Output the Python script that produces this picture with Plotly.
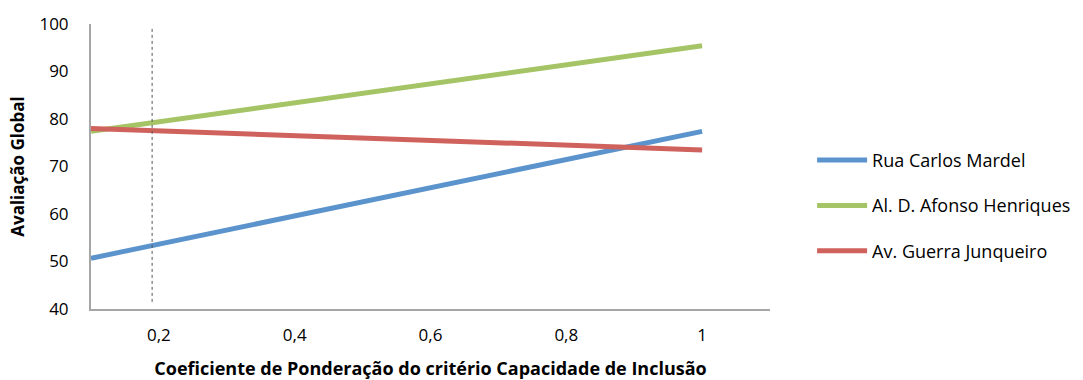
import plotly.graph_objects as go

# Weighting coefficient (x) and overall evaluation for each alternative
coef = [0.1, 1.0]
rua_carlos_mardel = [50.7, 77.4]
al_afonso_henriques = [77.4, 95.4]
av_guerra_junqueiro = [78.0, 73.5]

series_names = ["Rua Carlos Mardel", "Al. D. Afonso Henriques", "Av. Guerra Junqueiro"]
series_values = [rua_carlos_mardel, al_afonso_henriques, av_guerra_junqueiro]
series_colors = ["#5b93cc", "#a4c465", "#d0625d"]

x_ticks = [0.2, 0.4, 0.6, 0.8, 1]
x_tick_labels = ["0,2", "0,4", "0,6", "0,8", "1"]
y_ticks = [40, 50, 60, 70, 80, 90, 100]

# current weighting marked with a dotted reference line
current_weight = 0.19

fig = go.Figure()
for i, (name, vals, col) in enumerate(zip(series_names, series_values, series_colors)):
    fig.add_trace(go.Scatter(
        x=coef, y=vals, name=name, mode="lines",
        line=dict(color=col, width=5),
        legendgroup=f"g{i}",
    ))

fig.add_shape(
    type="line", xref="x", yref="y",
    x0=current_weight, x1=current_weight, y0=41.5, y1=99.2,
    line=dict(color="#555555", width=1, dash="dot"),
)

font_family = "'Open Sans', sans-serif"

fig.update_layout(
    width=1083, height=380,
    margin=dict(l=91, r=313, t=24, b=71, autoexpand=False),
    paper_bgcolor="white", plot_bgcolor="white",
    font=dict(family=font_family, size=17, color="#000000"),
    showlegend=True,
    legend=dict(
        x=1.062, y=0.362, xanchor="left", yanchor="middle",
        font=dict(size=18, family=font_family),
        tracegroupgap=19,
        itemwidth=50,
        bgcolor="rgba(0,0,0,0)",
    ),
    xaxis=dict(
        range=[0.1, 1.1],
        tickvals=x_ticks, ticktext=x_tick_labels,
        showgrid=False, zeroline=False, automargin=False,
        showline=True, linecolor="#a6a6a6", linewidth=2,
        ticks="", ticklabelstandoff=10,
        tickfont=dict(size=17),
        title=dict(text="<b>Coeficiente de Ponderação do critério Capacidade de Inclusão</b>",
                   font=dict(size=18, family=font_family), standoff=18),
    ),
    yaxis=dict(
        range=[40, 100],
        tickvals=y_ticks,
        showgrid=False, zeroline=False, automargin=False,
        showline=True, linecolor="#a6a6a6", linewidth=2,
        ticks="", ticklabelstandoff=17,
        tickfont=dict(size=17),
        title=dict(text="<b>Avaliação Global</b>",
                   font=dict(size=17, family=font_family), standoff=10),
    ),
)

fig.write_html("out.html")
